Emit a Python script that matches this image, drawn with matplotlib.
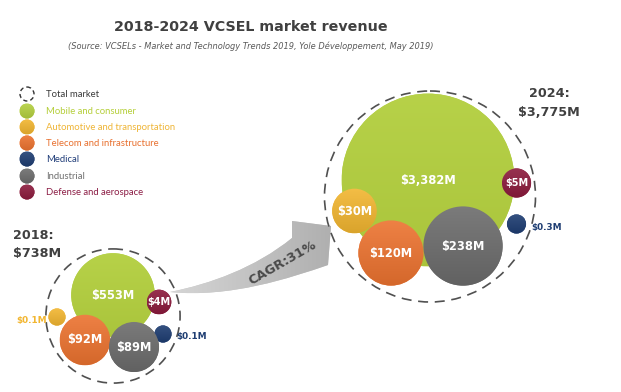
"""
2018-2024 VCSEL market revenue - bubble infographic.
"""
import matplotlib
matplotlib.use('Agg')
import matplotlib.pyplot as plt
import numpy as np
from matplotlib.patches import Circle, PathPatch
from matplotlib.path import Path
from matplotlib.colors import to_rgb

# Data ($M)
segments = ['Mobile and consumer', 'Automotive and transportation',
            'Telecom and infrastructure', 'Medical', 'Industrial',
            'Defense and aerospace']
years = ['2018', '2024']
rev_2018 = [553, 0.1, 92, 0.1, 89, 4]
rev_2024 = [3382, 30, 120, 0.3, 238, 5]
totals = [738, 3775]
cagr = 31

# Styles
seg_colors = ['#b3cf3f', '#f2b631', '#ec7330', '#1e3d72', '#6c6c6c', '#8c1b3d']
legend_text_colors = ['#b5cf3a', '#efb537', '#e8702f', '#223f7a', '#707070', '#8c1d45']
DARK = '#404040'

# Layout (pixel space of a 621x392 canvas)
W, H = 621, 392
centers = {
    '2018': [(113, 295), (57, 317), (85, 340), (163, 334), (134, 347), (159, 302)],
    '2024': [(428, 180), (354.5, 211), (391, 253), (516.5, 224), (463, 246), (516.5, 183)],
}
total_centers = {'2018': (113, 316), '2024': (430, 196.5)}
r_max = {'2018': 41, '2024': 86}


def shade(c, f):
    c = np.array(to_rgb(c))
    return c + (1 - c) * f if f > 0 else c * (1 + f)


def bubble_radius(v, v_max, rmax, rmin=8.0, p=0.3):
    r = rmax * (v / v_max) ** p
    return np.sqrt(r ** 2 + rmin ** 2)


def fmt(v):
    return f'${v:,.0f}M' if v >= 1 else f'${v:g}M'


def gradient_circle(ax, cx, cy, r, color, z=3, up=0.1, down=-0.1):
    circ = Circle((cx, cy), r, facecolor=color, edgecolor='none', zorder=z)
    ax.add_patch(circ)
    t = np.linspace(0, 1, 64)[:, None]
    img = shade(color, up) * (1 - t) + shade(color, down) * t
    im = ax.imshow(img[:, None, :], extent=(cx - r, cx + r, cy + r, cy - r),
                   origin='upper', aspect='auto', interpolation='bilinear',
                   zorder=z + 0.1)
    im.set_clip_path(circ)


fig = plt.figure(figsize=(W / 100, H / 100), dpi=100)
ax = fig.add_axes([0, 0, 1, 1])

# Title
ax.text(251, 27, '2018-2024 VCSEL market revenue', ha='center', va='center',
        fontsize=10.3, fontweight='bold', color=DARK)
ax.text(251, 46, '(Source: VCSELs - Market and Technology Trends 2019, '
        'Yole Développement, May 2019)', ha='center', va='center',
        fontsize=5.95, style='italic', color='#595959')

# Legend
leg_y = [94, 111, 127, 143, 159, 176, 192]
ax.add_patch(Circle((27, leg_y[0]), 7, facecolor='none', edgecolor='#333333',
                    lw=1.0, linestyle=(0, (3, 2.2))))
ax.text(46, leg_y[0], 'Total market', va='center', fontsize=6.8,
        family='Lato', color='#3a3a3a')
for i, (name, c) in enumerate(zip(segments, seg_colors)):
    gradient_circle(ax, 27, leg_y[i + 1], 7.5, c)
    ax.text(46, leg_y[i + 1], name, va='center', fontsize=6.8, family='Lato',
            color=legend_text_colors[i])

# Growth arrow
T = (170, 292)
verts = [T, (210, 284), (255, 268), (292, 238), (292, 221), (331, 226),
         (328, 265), (290, 278), (230, 298), T, T]
codes = [Path.MOVETO, Path.CURVE4, Path.CURVE4, Path.CURVE4, Path.LINETO,
         Path.LINETO, Path.LINETO, Path.CURVE4, Path.CURVE4, Path.CURVE4,
         Path.CLOSEPOLY]
arrow = PathPatch(Path(verts, codes), facecolor='#c8c8c8', edgecolor='none', zorder=1)
ax.add_patch(arrow)
g = np.linspace(0, 1, 128)[None, :, None]
grad = shade('#d6d6d6', 0) * (1 - g) + shade('#afafaf', 0) * g
im = ax.imshow(grad, extent=(168, 334, 300, 218), origin='upper', aspect='auto',
               interpolation='bilinear', zorder=1.1)
im.set_clip_path(arrow)
ax.text(283, 263, f'CAGR:{cagr}%', rotation=30, rotation_mode='anchor',
        ha='center', va='center', fontsize=9.3, fontweight='bold',
        color='#4a4a4a', zorder=2)

# Bubbles
for year, revs, total in zip(years, [rev_2018, rev_2024], totals):
    vmax = max(revs)
    tcx, tcy = total_centers[year]
    reach = 0
    for v, (cx, cy), c in zip(revs, centers[year], seg_colors):
        r = bubble_radius(v, vmax, r_max[year])
        reach = max(reach, np.hypot(cx - tcx, cy - tcy) + r)
        if v == vmax:
            gradient_circle(ax, cx, cy, r, c, up=0.05, down=-0.05)
        else:
            gradient_circle(ax, cx, cy, r, c)
        if r >= 10:
            fs = 8.3 if r >= 20 else 7.0
            ax.text(cx, cy, fmt(v), ha='center', va='center', fontsize=fs,
                    fontweight='bold', color='white', zorder=5)
        elif cx < tcx:
            ax.text(cx - r - 1.5, cy + 3, fmt(v), ha='right', va='center',
                    fontsize=6.4, fontweight='bold', color=c, zorder=5)
        else:
            ax.text(cx + r + 5, cy + 3, fmt(v), ha='left', va='center',
                    fontsize=6.4, fontweight='bold', color=c, zorder=5)
    ax.add_patch(Circle((tcx, tcy), reach + 2.5, facecolor='none',
                        edgecolor='#505050', lw=1.2, linestyle=(0, (6, 4)),
                        zorder=4))

# Year totals
ax.text(13, 235, '2018:', ha='left', va='center', fontsize=9.2,
        fontweight='bold', color=DARK)
ax.text(13, 254, fmt(totals[0]), ha='left', va='center', fontsize=9.2,
        fontweight='bold', color=DARK)
ax.text(549, 93, '2024:', ha='center', va='center', fontsize=9.2,
        fontweight='bold', color=DARK)
ax.text(549, 112, fmt(totals[1]), ha='center', va='center', fontsize=9.2,
        fontweight='bold', color=DARK)

ax.set_xlim(0, W)
ax.set_ylim(H, 0)
ax.axis('off')
fig.savefig('out.png', dpi=100, facecolor='white')
